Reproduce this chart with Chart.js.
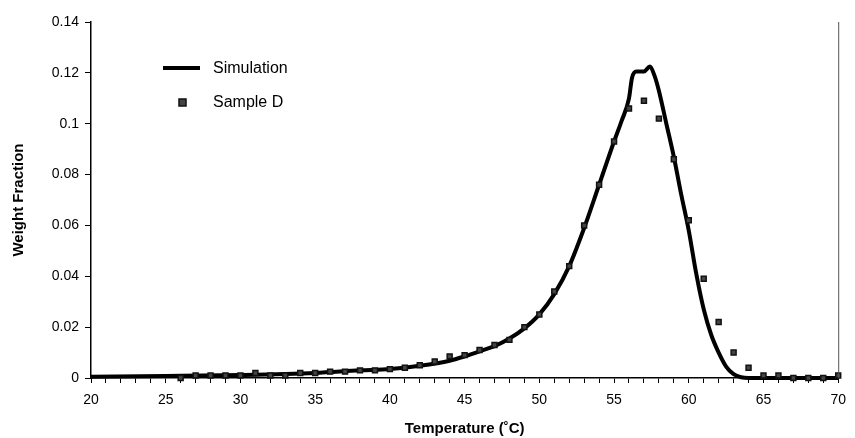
<!DOCTYPE html>
<html>
<head>
<meta charset="utf-8">
<script src="https://cdn.jsdelivr.net/npm/chart.js@4.4.1/dist/chart.umd.min.js"></script>
<style>
html,body{margin:0;padding:0;background:#fff;}
#wrap{width:855px;height:438px;position:relative;}
</style>
</head>
<body>
<div id="wrap"><canvas id="c" width="855" height="438"></canvas></div>
<script>
// Simulation curve (Temperature in °C, weight fraction)
const simT = [20,25,30,35,38,40,42,44,45,46,47,48,49,50,51,52,53,54,55,55.5,56,56.2,56.5,57,57.4,57.7,58,58.5,59,59.5,60,60.5,61,61.5,62,62.5,63,63.5,64,65,70];
const simW = [0.0005,0.0008,0.0012,0.002,0.003,0.0035,0.0048,0.0068,0.0085,0.0105,0.0125,0.0155,0.0195,0.025,0.033,0.044,0.059,0.076,0.093,0.101,0.110,0.118,0.1205,0.1205,0.1225,0.119,0.113,0.100,0.087,0.072,0.058,0.041,0.027,0.017,0.010,0.0045,0.0015,0.0003,0,0,0];
// Sample D measurements
const sampleT = [26,27,28,29,30,31,32,33,34,35,36,37,38,39,40,41,42,43,44,45,46,47,48,49,50,51,52,53,54,55,56,57,58,59,60,61,62,63,64,65,66,67,68,69,70];
const sampleW = [0,0.001,0.001,0.001,0.001,0.002,0.001,0.001,0.002,0.002,0.0025,0.0025,0.003,0.003,0.0035,0.004,0.005,0.0065,0.0085,0.009,0.011,0.013,0.015,0.020,0.025,0.034,0.044,0.060,0.076,0.093,0.106,0.109,0.102,0.086,0.062,0.039,0.022,0.010,0.004,0.001,0.001,0,0,0,0.001];
const xTickLabels = [20,25,30,35,40,45,50,55,60,65,70];
const yTicks = [0,0.02,0.04,0.06,0.08,0.1,0.12,0.14];
const seriesNames = ['Simulation','Sample D'];
const xTitle = 'Temperature (\u02daC)';
const yTitle = 'Weight Fraction';

const FONT = '"Liberation Sans", Arial, sans-serif';

const legendPlugin = {
  id: 'insideLegend',
  afterDraw(chart) {
    const ctx = chart.ctx;
    ctx.save();
    ctx.font = '16px ' + FONT;
    ctx.fillStyle = '#000';
    ctx.textBaseline = 'middle';
    ctx.strokeStyle = '#000';
    ctx.lineWidth = 4;
    ctx.beginPath();
    ctx.moveTo(163, 68); ctx.lineTo(200, 68);
    ctx.stroke();
    ctx.fillText(seriesNames[0], 213, 69);
    ctx.fillStyle = '#444';
    ctx.strokeStyle = '#111';
    ctx.lineWidth = 1.5;
    ctx.fillRect(179, 99, 7, 7);
    ctx.strokeRect(179, 99, 7, 7);
    ctx.fillStyle = '#000';
    ctx.fillText(seriesNames[1], 213, 103);
    ctx.restore();
  }
};

const frameDraw = {
  id: 'frame',
  afterDatasetsDraw(chart) {
    const a = chart.chartArea, ctx = chart.ctx;
    ctx.save();
    ctx.strokeStyle = '#555';
    ctx.lineWidth = 1;
    ctx.beginPath();
    ctx.moveTo(a.right + 0.5, a.top); ctx.lineTo(a.right + 0.5, a.bottom);
    ctx.stroke();
    ctx.restore();
  }
};

new Chart(document.getElementById('c'), {
  type: 'scatter',
  data: {
    datasets: [
      {
        label: seriesNames[1],
        data: sampleT.map((t,i)=>({x:t,y:sampleW[i]})),
        showLine: false,
        pointStyle: 'rect',
        pointRadius: 3.5,
        backgroundColor: '#444',
        borderColor: '#111',
        borderWidth: 1.5,
        order: 0
      },
      {
        label: seriesNames[0],
        data: simT.map((t,i)=>({x:t,y:simW[i]})),
        showLine: true,
        borderColor: '#000',
        borderWidth: 4,
        pointRadius: 0,
        cubicInterpolationMode: 'monotone',
        order: 1
      }
    ]
  },
  options: {
    responsive: false,
    animation: false,
    clip: false,
    layout: { padding: { top: 22, right: 7, left: 0, bottom: 0 } },
    plugins: { legend: { display: false }, tooltip: { enabled: false } },
    scales: {
      x: {
        type: 'linear', min: 20, max: 70,
        afterBuildTicks: s => {
          const t = [];
          for (let v = xTickLabels[0]; v <= xTickLabels[xTickLabels.length-1]; v++) t.push({value: v});
          s.ticks = t;
        },
        afterFit: s => { s.height = 60; },
        grid: { drawOnChartArea: false, color: '#000', tickLength: 5, tickColor: '#000' },
        border: { color: '#000', width: 1.5 },
        ticks: { color: '#000', font: { family: FONT, size: 14 }, padding: 9, autoSkip: false, maxRotation: 0,
                 callback: v => xTickLabels.includes(v) ? String(v) : '' },
        title: { display: true, text: xTitle, color: '#000', font: { family: FONT, size: 15, weight: 'bold' }, padding: { top: 2, bottom: 0 } }
      },
      y: {
        type: 'linear', min: 0, max: 0.14,
        afterBuildTicks: s => { s.ticks = yTicks.map(v=>({value:v})); },
        afterFit: s => { s.width = 91; },
        grid: { drawOnChartArea: false, color: '#000', tickLength: 6, tickColor: '#000' },
        border: { color: '#000', width: 1.5 },
        ticks: { color: '#000', font: { family: FONT, size: 14 }, padding: 6, callback: v => String(Math.round(v*100)/100) },
        title: { display: true, text: yTitle, color: '#000', font: { family: FONT, size: 15, weight: 'bold' }, padding: { top: 10, bottom: 4 } }
      }
    }
  },
  plugins: [legendPlugin, frameDraw]
});
</script>
</body>
</html>
